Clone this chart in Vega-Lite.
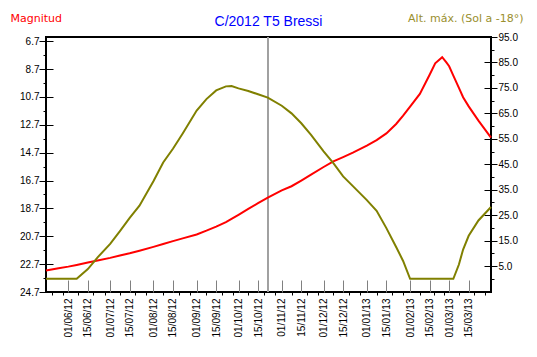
{
  "$schema": "https://vega.github.io/schema/vega-lite/v6.json",
  "width": 445,
  "height": 255,
  "autosize": "none",
  "padding": {"left": 46, "top": 37, "right": 46, "bottom": 65},
  "background": "white",
  "title": {"text": "C/2012 T5 Bressi", "color": "blue", "font": "Liberation Sans", "fontSize": 14, "fontWeight": "normal", "anchor": "middle", "offset": 7, "dy": 24},
  "config": {
    "view": {"stroke": "black", "strokeWidth": 2},
    "axis": {"grid": false, "domain": false, "labelFlush": false, "labelOverlap": false, "labelColor": "black", "labelFont": "Liberation Sans", "labelFontSize": 10, "tickColor": "black", "tickCount": 60}
  },
  "data": {"values": [
    {"date": "2012/05/16", "mag": 23.16, "alt": 0},
    {"date": "2012/05/25", "mag": 22.99, "alt": 0},
    {"date": "2012/06/01", "mag": 22.88, "alt": 0},
    {"date": "2012/06/07", "mag": 22.76, "alt": 0},
    {"date": "2012/06/15", "mag": 22.59, "alt": 3.8},
    {"date": "2012/06/22", "mag": 22.44, "alt": 8.4},
    {"date": "2012/07/01", "mag": 22.25, "alt": 13.7},
    {"date": "2012/07/08", "mag": 22.08, "alt": 18.7},
    {"date": "2012/07/15", "mag": 21.92, "alt": 23.9},
    {"date": "2012/07/22", "mag": 21.74, "alt": 28.7},
    {"date": "2012/08/01", "mag": 21.46, "alt": 38.3},
    {"date": "2012/08/08", "mag": 21.25, "alt": 45.7},
    {"date": "2012/08/15", "mag": 21.05, "alt": 51.1},
    {"date": "2012/08/22", "mag": 20.85, "alt": 57.1},
    {"date": "2012/09/01", "mag": 20.57, "alt": 66.1},
    {"date": "2012/09/08", "mag": 20.30, "alt": 70.6},
    {"date": "2012/09/15", "mag": 20.01, "alt": 74.0},
    {"date": "2012/09/22", "mag": 19.68, "alt": 75.6},
    {"date": "2012/09/26", "mag": 19.45, "alt": 75.7},
    {"date": "2012/10/01", "mag": 19.16, "alt": 74.8},
    {"date": "2012/10/08", "mag": 18.74, "alt": 73.8},
    {"date": "2012/10/15", "mag": 18.33, "alt": 72.5},
    {"date": "2012/10/22", "mag": 17.92, "alt": 71.2},
    {"date": "2012/11/01", "mag": 17.41, "alt": 68.0},
    {"date": "2012/11/08", "mag": 17.11, "alt": 65.0},
    {"date": "2012/11/15", "mag": 16.70, "alt": 61.1},
    {"date": "2012/11/22", "mag": 16.27, "alt": 56.5},
    {"date": "2012/12/01", "mag": 15.73, "alt": 50.1},
    {"date": "2012/12/08", "mag": 15.33, "alt": 45.4},
    {"date": "2012/12/15", "mag": 15.02, "alt": 40.2},
    {"date": "2012/12/22", "mag": 14.70, "alt": 36.4},
    {"date": "2013/01/01", "mag": 14.20, "alt": 30.9},
    {"date": "2013/01/08", "mag": 13.80, "alt": 26.7},
    {"date": "2013/01/15", "mag": 13.32, "alt": 19.9},
    {"date": "2013/01/22", "mag": 12.64, "alt": 12.5},
    {"date": "2013/01/27", "mag": 12.05, "alt": 7.0},
    {"date": "2013/02/01", "mag": 11.40, "alt": 0},
    {"date": "2013/02/08", "mag": 10.48, "alt": 0},
    {"date": "2013/02/15", "mag": 9.11, "alt": 0},
    {"date": "2013/02/19", "mag": 8.29, "alt": 0},
    {"date": "2013/02/24", "mag": 7.85, "alt": 0},
    {"date": "2013/02/27", "mag": 8.22, "alt": 0},
    {"date": "2013/03/01", "mag": 8.50, "alt": 0},
    {"date": "2013/03/04", "mag": 9.17, "alt": 0},
    {"date": "2013/03/08", "mag": 10.05, "alt": 5.6},
    {"date": "2013/03/11", "mag": 10.72, "alt": 11.5},
    {"date": "2013/03/15", "mag": 11.38, "alt": 16.9},
    {"date": "2013/03/22", "mag": 12.40, "alt": 22.9},
    {"date": "2013/03/31", "mag": 13.62, "alt": 28.2}
  ]},
  "layer": [
    {
      "mark": {"type": "rule", "color": "#a0a0a0", "strokeWidth": 1},
      "encoding": {"x": {"datum": {"year": 2012, "month": 10, "date": 22}, "type": "temporal", "axis": null}}
    },
    {
      "mark": {"type": "line", "strokeOpacity": 0},
      "encoding": {
        "x": {"field": "date", "type": "temporal",
          "axis": {"orient": "bottom", "title": null, "labels": false, "tickSize": 3,
            "values": [
              {"year": 2012, "month": 5, "date": 20}, {"year": 2012, "month": 5, "date": 24}, {"year": 2012, "month": 5, "date": 28},
              {"year": 2012, "month": 6, "date": 4}, {"year": 2012, "month": 6, "date": 8}, {"year": 2012, "month": 6, "date": 12},
              {"year": 2012, "month": 6, "date": 19}, {"year": 2012, "month": 6, "date": 23}, {"year": 2012, "month": 6, "date": 27},
              {"year": 2012, "month": 7, "date": 4}, {"year": 2012, "month": 7, "date": 8}, {"year": 2012, "month": 7, "date": 12},
              {"year": 2012, "month": 7, "date": 19}, {"year": 2012, "month": 7, "date": 23}, {"year": 2012, "month": 7, "date": 27},
              {"year": 2012, "month": 8, "date": 4}, {"year": 2012, "month": 8, "date": 8}, {"year": 2012, "month": 8, "date": 12},
              {"year": 2012, "month": 8, "date": 19}, {"year": 2012, "month": 8, "date": 23}, {"year": 2012, "month": 8, "date": 27},
              {"year": 2012, "month": 9, "date": 4}, {"year": 2012, "month": 9, "date": 8}, {"year": 2012, "month": 9, "date": 12},
              {"year": 2012, "month": 9, "date": 19}, {"year": 2012, "month": 9, "date": 23}, {"year": 2012, "month": 9, "date": 27},
              {"year": 2012, "month": 10, "date": 4}, {"year": 2012, "month": 10, "date": 8}, {"year": 2012, "month": 10, "date": 12},
              {"year": 2012, "month": 10, "date": 19}, {"year": 2012, "month": 10, "date": 23}, {"year": 2012, "month": 10, "date": 27},
              {"year": 2012, "month": 11, "date": 4}, {"year": 2012, "month": 11, "date": 8}, {"year": 2012, "month": 11, "date": 12},
              {"year": 2012, "month": 11, "date": 19}, {"year": 2012, "month": 11, "date": 23}, {"year": 2012, "month": 11, "date": 27},
              {"year": 2012, "month": 12, "date": 4}, {"year": 2012, "month": 12, "date": 8}, {"year": 2012, "month": 12, "date": 12},
              {"year": 2012, "month": 12, "date": 19}, {"year": 2012, "month": 12, "date": 23}, {"year": 2012, "month": 12, "date": 27},
              {"year": 2013, "month": 1, "date": 4}, {"year": 2013, "month": 1, "date": 8}, {"year": 2013, "month": 1, "date": 12},
              {"year": 2013, "month": 1, "date": 19}, {"year": 2013, "month": 1, "date": 23}, {"year": 2013, "month": 1, "date": 27},
              {"year": 2013, "month": 2, "date": 4}, {"year": 2013, "month": 2, "date": 8}, {"year": 2013, "month": 2, "date": 12},
              {"year": 2013, "month": 2, "date": 18}, {"year": 2013, "month": 2, "date": 22}, {"year": 2013, "month": 2, "date": 25},
              {"year": 2013, "month": 3, "date": 4}, {"year": 2013, "month": 3, "date": 8}, {"year": 2013, "month": 3, "date": 12},
              {"year": 2013, "month": 3, "date": 19}, {"year": 2013, "month": 3, "date": 23}, {"year": 2013, "month": 3, "date": 27}
            ]}},
        "y": {"field": "mag", "type": "quantitative",
          "scale": {"domain": [6.4, 24.7], "reverse": true, "nice": false, "zero": false},
          "axis": {"orient": "left", "values": [7.7, 9.7, 11.7, 13.7, 15.7, 17.7, 19.7, 21.7, 23.7], "tickSize": 3, "labels": false, "title": null}}
      }
    },
    {
      "mark": {"type": "line", "strokeOpacity": 0},
      "encoding": {
        "x": {"field": "date", "type": "temporal", "axis": null},
        "y": {"field": "mag", "type": "quantitative",
          "scale": {"domain": [6.4, 24.7], "reverse": true, "nice": false, "zero": false},
          "axis": {"orient": "left", "values": [6.7, 8.7, 10.7, 12.7, 14.7, 16.7, 18.7, 20.7, 22.7, 24.7], "tickSize": -7, "labels": false, "title": null}}
      }
    },
    {
      "mark": {"type": "line", "strokeOpacity": 0},
      "encoding": {
        "x": {"field": "date", "type": "temporal", "axis": null},
        "y": {"field": "alt", "type": "quantitative",
          "scale": {"domain": [-5.2, 95], "nice": false, "zero": false},
          "axis": {"orient": "right", "values": [0, 10, 20, 30, 40, 50, 60, 70, 80, 90], "tickSize": 3, "labels": false, "title": null}}
      }
    },
    {
      "mark": {"type": "line", "strokeOpacity": 0},
      "encoding": {
        "x": {"field": "date", "type": "temporal", "axis": null},
        "y": {"field": "alt", "type": "quantitative",
          "scale": {"domain": [-5.2, 95], "nice": false, "zero": false},
          "axis": {"orient": "right", "values": [5, 15, 25, 35, 45, 55, 65, 75, 85, 95], "tickSize": -7, "labels": false, "title": null}}
      }
    },
    {
      "mark": {"type": "line", "color": "#ff0000", "strokeWidth": 2},
      "encoding": {
        "x": {"field": "date", "type": "temporal",
          "scale": {"domain": [{"year": 2012, "month": 5, "date": 16}, {"year": 2013, "month": 3, "date": 31}], "nice": false},
          "axis": {"orient": "bottom", "title": null, "format": "%d/%m/%y", "labelAngle": -90, "tickSize": -12, "tickColor": "#808080", "labelPadding": 18,
            "values": [
              {"year": 2012, "month": 6, "date": 1}, {"year": 2012, "month": 6, "date": 15},
              {"year": 2012, "month": 7, "date": 1}, {"year": 2012, "month": 7, "date": 15},
              {"year": 2012, "month": 8, "date": 1}, {"year": 2012, "month": 8, "date": 15},
              {"year": 2012, "month": 9, "date": 1}, {"year": 2012, "month": 9, "date": 15},
              {"year": 2012, "month": 10, "date": 1}, {"year": 2012, "month": 10, "date": 15},
              {"year": 2012, "month": 11, "date": 1}, {"year": 2012, "month": 11, "date": 15},
              {"year": 2012, "month": 12, "date": 1}, {"year": 2012, "month": 12, "date": 15},
              {"year": 2013, "month": 1, "date": 1}, {"year": 2013, "month": 1, "date": 15},
              {"year": 2013, "month": 2, "date": 1}, {"year": 2013, "month": 2, "date": 15},
              {"year": 2013, "month": 3, "date": 1}, {"year": 2013, "month": 3, "date": 15}
            ]}},
        "y": {"field": "mag", "type": "quantitative",
          "scale": {"domain": [6.4, 24.7], "reverse": true, "nice": false, "zero": false},
          "axis": {"orient": "left", "values": [6.7, 8.7, 10.7, 12.7, 14.7, 16.7, 18.7, 20.7, 22.7, 24.7], "format": ".1f",
            "tickSize": 7, "labelPadding": 0,
            "title": "Magnitud", "titleColor": "#ff0000", "titleFont": "DejaVu Sans", "titleFontSize": 11, "titleFontWeight": "normal",
            "titleAngle": 0, "titleAlign": "left", "titleBaseline": "alphabetic", "titleX": -36, "titleY": -16}}
      }
    },
    {
      "mark": {"type": "line", "color": "#808000", "strokeWidth": 2},
      "encoding": {
        "x": {"field": "date", "type": "temporal", "axis": null},
        "y": {"field": "alt", "type": "quantitative",
          "scale": {"domain": [-5.2, 95], "nice": false, "zero": false},
          "axis": {"orient": "right", "values": [5, 15, 25, 35, 45, 55, 65, 75, 85, 95], "format": ".1f",
            "tickSize": 6, "labelPadding": 1,
            "title": "Alt. máx. (Sol a -18°)", "titleColor": "#9a8f2e", "titleFont": "DejaVu Sans", "titleFontSize": 11, "titleFontWeight": "normal",
            "titleAngle": 0, "titleAlign": "right", "titleBaseline": "alphabetic", "titleX": 32, "titleY": -16}}
      }
    }
  ],
  "resolve": {"scale": {"y": "independent"}, "axis": {"x": "independent", "y": "independent"}}
}
